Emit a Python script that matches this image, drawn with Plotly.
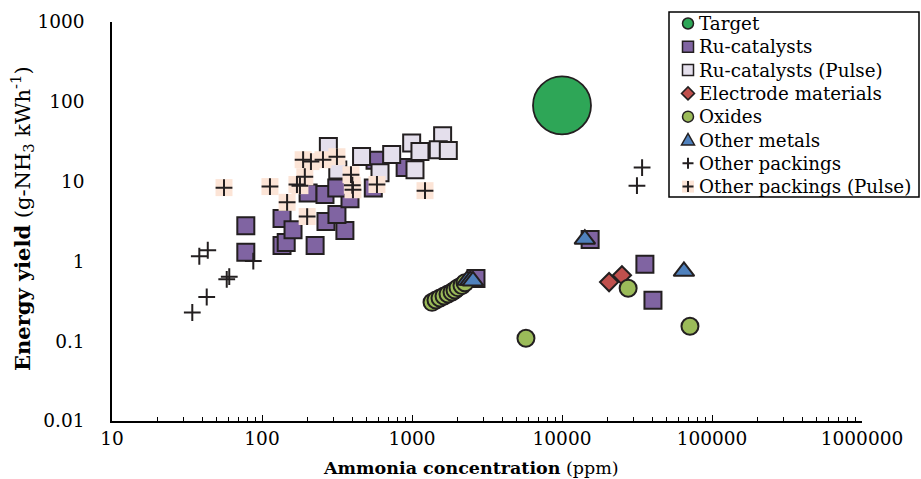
import plotly.graph_objects as go

# ---------------- data ----------------
target_x = [10000]
target_y = [90]

ru_x = [78, 78, 136, 136, 145, 161, 226, 267, 357, 316, 386, 203, 263, 315, 552, 567, 900, 2670, 15400, 35700, 40400]
ru_y = [2.8, 1.3, 3.45, 1.58, 1.73, 2.5, 1.58, 3.16, 2.44, 3.87, 6.1, 7.2, 6.9, 8.3, 8.3, 18.5, 15, 0.61, 1.88, 0.92, 0.325]

rup_x = [277, 320, 461, 612, 732, 995, 1130, 1047, 1600, 1497, 1746]
rup_y = [27.6, 14, 20.7, 12.9, 21.8, 30.5, 23.9, 14.1, 37.6, 25.1, 24.6]

el_x = [20600, 25100]
el_y = [0.55, 0.67]

ox_x = [1360, 1445, 1537, 1635, 1738, 1848, 1935, 2027, 2154, 2256, 5750, 27600, 71300]
ox_y = [0.307, 0.328, 0.348, 0.368, 0.39, 0.413, 0.438, 0.469, 0.5, 0.54, 0.109, 0.46, 0.154]

om_x = [2330, 2450, 2550, 14200, 65000]
om_y = [0.58, 0.58, 0.57, 1.9, 0.75]

op_x = [34.3, 42.8, 58.2, 60.5, 38.2, 43.5, 87.5, 31600, 34200]
op_y = [0.229, 0.358, 0.596, 0.644, 1.16, 1.38, 1.01, 8.9, 15]

opp_x = [55.8, 113, 171, 147, 200, 188, 212, 193, 179, 255, 316, 392, 404, 400, 584, 1221]
opp_y = [8.4, 8.66, 9.2, 5.5, 3.65, 18.8, 17.8, 11.5, 8.9, 18.8, 20.5, 12.2, 7.9, 9.0, 9.2, 7.7]

x_tickvals = [10, 100, 1000, 10000, 100000, 1000000]
x_ticktext = ["10", "100", "1000", "10000", "100000", "1000000"]
y_tickvals = [0.01, 0.1, 1, 10, 100, 1000]
y_ticktext = ["0.01", "0.1", "1", "10", "100", "1000"]

legend_names = ["Target", "Ru-catalysts", "Ru-catalysts (Pulse)", "Electrode materials",
                "Oxides", "Other metals", "Other packings", "Other packings (Pulse)"]

# ---------------- style ----------------
FONT = "DejaVu Serif"
EDGE = "#231f20"
C_TARGET = "#2ea657"
C_RU = "#8064a2"
C_RUP = "#e4dfec"
C_EL = "#c0504d"
C_OX = "#9bbb59"
C_OM = "#4f81bd"
C_PEACH = "#fce4d6"

# plot-area geometry (pixels)
W_FIG, H_FIG = 921, 479
L, R, T, B = 112, 59, 22, 58
PW, PH = W_FIG - L - R, H_FIG - T - B


def fx(px):
    return (px - L) / PW


def fy(py):
    return (T + PH - py) / PH


fig = go.Figure()

fig.add_trace(go.Scatter(x=target_x, y=target_y, mode="markers", name="Target",
                         marker=dict(symbol="circle", size=58, color=C_TARGET,
                                     line=dict(color=EDGE, width=1.8))))
fig.add_trace(go.Scatter(x=ru_x, y=ru_y, mode="markers", name="Ru-catalysts",
                         marker=dict(symbol="square", size=17, color=C_RU,
                                     line=dict(color=EDGE, width=2))))
fig.add_trace(go.Scatter(x=rup_x, y=rup_y, mode="markers", name="Ru-catalysts (Pulse)",
                         marker=dict(symbol="square", size=17, color=C_RUP,
                                     line=dict(color=EDGE, width=2))))
fig.add_trace(go.Scatter(x=el_x, y=el_y, mode="markers", name="Electrode materials",
                         marker=dict(symbol="diamond", size=14, color=C_EL,
                                     line=dict(color=EDGE, width=2))))
fig.add_trace(go.Scatter(x=ox_x, y=ox_y, mode="markers", name="Oxides",
                         marker=dict(symbol="circle", size=17, color=C_OX,
                                     line=dict(color=EDGE, width=2))))
fig.add_trace(go.Scatter(x=om_x, y=om_y, mode="markers", name="Other metals",
                         marker=dict(symbol="triangle-up", size=18, color=C_OM,
                                     line=dict(color=EDGE, width=2))))
fig.add_trace(go.Scatter(x=op_x, y=op_y, mode="markers", name="Other packings",
                         marker=dict(symbol="cross-thin", size=12,
                                     line=dict(color=EDGE, width=2))))
fig.add_trace(go.Scatter(x=opp_x, y=opp_y, mode="markers", name="Other packings (Pulse) bg",
                         hoverinfo="skip",
                         marker=dict(symbol="square", size=17, color=C_PEACH,
                                     line=dict(width=0))))
fig.add_trace(go.Scatter(x=opp_x, y=opp_y, mode="markers", name="Other packings (Pulse)",
                         marker=dict(symbol="cross-thin", size=12,
                                     line=dict(color=EDGE, width=2))))

# ---------------- hand-drawn legend ----------------
LEG_X0, LEG_X1, LEG_Y0, LEG_Y1 = 669, 919, 12, 197
SYM_X, TXT_X = 688, 697
ROW0, ROW_STEP = 23.5, 23.3

shapes = [dict(type="rect", xref="paper", yref="paper",
               x0=fx(LEG_X0), x1=fx(LEG_X1), y0=fy(LEG_Y1), y1=fy(LEG_Y0),
               line=dict(color="black", width=1.5), fillcolor="white", layer="above")]


def glyph(row, kind, fill, lw=1.5, s=5.5):
    base = dict(xref="paper", yref="paper", xsizemode="pixel", ysizemode="pixel",
                xanchor=fx(SYM_X), yanchor=fy(ROW0 + row * ROW_STEP), layer="above")
    if kind == "circle":
        base.update(type="circle", x0=-s, x1=s, y0=-s, y1=s, fillcolor=fill,
                    line=dict(color=EDGE, width=lw))
    elif kind == "square":
        base.update(type="rect", x0=-s, x1=s, y0=-s, y1=s, fillcolor=fill,
                    line=dict(color=EDGE, width=lw))
    elif kind == "diamond":
        d = s + 1
        base.update(type="path", path=f"M0,{d} L{d},0 L0,{-d} L{-d},0 Z",
                    fillcolor=fill, line=dict(color=EDGE, width=lw))
    elif kind == "triangle":
        base.update(type="path", path=f"M{-s-1},{-s+0.5} L{s+1},{-s+0.5} L0,{s+1} Z",
                    fillcolor=fill, line=dict(color=EDGE, width=lw))
    elif kind == "bg":
        base.update(type="rect", x0=-s - 0.5, x1=s + 0.5, y0=-s - 0.5, y1=s + 0.5,
                    fillcolor=fill, line=dict(width=0))
    elif kind == "cross":
        base.update(type="path", path=f"M{-s},0 L{s},0 M0,{-s} L0,{s}",
                    line=dict(color=EDGE, width=2))
    return base


shapes += [
    glyph(0, "circle", C_TARGET),
    glyph(1, "square", C_RU),
    glyph(2, "square", C_RUP),
    glyph(3, "diamond", C_EL),
    glyph(4, "circle", C_OX),
    glyph(5, "triangle", C_OM),
    glyph(6, "cross", None),
    glyph(7, "bg", C_PEACH),
    glyph(7, "cross", None),
]

annotations = []
for i, name in enumerate(legend_names):
    annotations.append(dict(text=name, xref="paper", yref="paper",
                            x=fx(TXT_X), y=fy(ROW0 + i * ROW_STEP),
                            xanchor="left", yanchor="middle", showarrow=False,
                            font=dict(family=FONT, size=18.3, color="black")))

# axis titles
annotations.append(dict(text="<b>Ammonia concentration</b> (ppm)", xref="paper", yref="paper",
                        x=fx(471), y=fy(468), xanchor="center", yanchor="middle",
                        showarrow=False, font=dict(family=FONT, size=17.5, color="black")))
annotations.append(dict(text="<b>Energy yield</b> (g-NH<sub>3</sub> kWh<sup>-1</sup>)",
                        xref="paper", yref="paper", x=fx(22), y=fy(219),
                        xanchor="center", yanchor="middle", textangle=-90,
                        showarrow=False, font=dict(family=FONT, size=21, color="black")))

fig.update_layout(
    width=W_FIG, height=H_FIG,
    margin=dict(l=L, r=R, t=T, b=B),
    paper_bgcolor="white", plot_bgcolor="white",
    font=dict(family=FONT, size=18, color="black"),
    showlegend=False,
    shapes=shapes,
    annotations=annotations,
    xaxis=dict(type="log", range=[1, 6], tickvals=x_tickvals, ticktext=x_ticktext,
               showgrid=False, zeroline=False, showline=True, linecolor="black",
               linewidth=1.5, ticks="inside", ticklen=6, tickcolor="black",
               minor=dict(ticks="inside", ticklen=4, tickcolor="black", dtick="D1",
                          showgrid=False),
               tickfont=dict(family=FONT, size=18.5)),
    yaxis=dict(type="log", range=[-2, 3], tickvals=y_tickvals, ticktext=y_ticktext,
               showgrid=False, zeroline=False, showline=True, linecolor="black",
               linewidth=1.5, ticks="", ticklabelstandoff=22,
               tickfont=dict(family=FONT, size=18.5)),
)

fig.write_html("out.html")
